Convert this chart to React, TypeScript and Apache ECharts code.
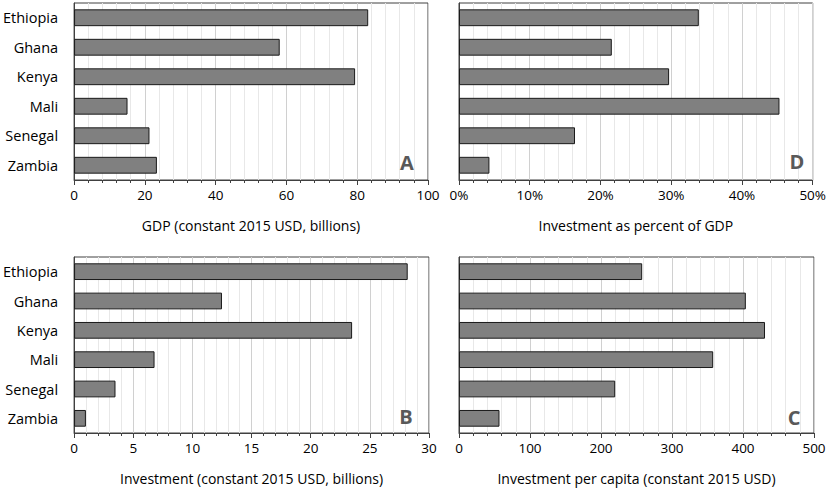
import React, { useEffect, useRef } from "react";
import * as echarts from "echarts";

const countries = ["Ethiopia", "Ghana", "Kenya", "Mali", "Senegal", "Zambia"];
const gdpBillions = [83.1, 58.1, 79.4, 15.1, 21.3, 23.4];
const investmentBillions = [28.2, 12.5, 23.5, 6.8, 3.5, 1.0];
const investmentPctGdp = [33.9, 21.6, 29.7, 45.3, 16.4, 4.3];
const investmentPerCapita = [258, 404, 431, 358, 220, 57];

const panelLetters = ["A", "D", "B", "C"];
const axisTitles = [
  "GDP (constant 2015 USD, billions)",
  "Investment as percent of GDP",
  "Investment (constant 2015 USD, billions)",
  "Investment per capita (constant 2015 USD)",
];
const axisMax = [100, 50, 30, 500];
const axisInterval = [20, 10, 5, 100];

const FONT = "'Open Sans', sans-serif";

export default function App() {
  const ref = useRef<HTMLDivElement>(null);
  useEffect(() => {
    if (!ref.current) return;
    const chart = echarts.init(ref.current, undefined, { renderer: "svg" });
    const grids = [
      { left: 71, top: 3, width: 357, height: 177 },
      { left: 459, top: 3, width: 355, height: 177 },
      { left: 72, top: 257, width: 357, height: 176 },
      { left: 459, top: 257, width: 355, height: 176 },
    ];
    const seriesData = [gdpBillions, investmentPctGdp, investmentBillions, investmentPerCapita];
    const letterPos = [
      [407, 162],
      [797, 161],
      [406, 416],
      [794, 417],
    ];
    const option: any = {
      animation: false,
      backgroundColor: "#ffffff",
      grid: grids.map((g) => ({
        ...g,
        show: true,
        borderColor: "#404040",
        borderWidth: 1,
        backgroundColor: "transparent",
      })),
      xAxis: grids.map((_, i) => ({
        type: "value",
        gridIndex: i,
        min: 0,
        max: axisMax[i],
        interval: axisInterval[i],
        name: axisTitles[i],
        nameLocation: "middle",
        nameGap: 38,
        nameTextStyle: { fontFamily: FONT, fontSize: 14, color: "#000000" },
        axisLine: { show: true, lineStyle: { color: "#404040", width: 1 } },
        axisTick: { show: true, length: 5, lineStyle: { color: "#404040" } },
        minorTick: { show: true, splitNumber: 5, length: 3, lineStyle: { color: "#404040" } },
        splitLine: { show: true, lineStyle: { color: "#d0d0d0", width: 1 } },
        minorSplitLine: { show: true, lineStyle: { color: "#e8e8e8", width: 1 } },
        axisLabel: {
          fontFamily: FONT,
          fontSize: 13.5,
          color: "#000000",
          margin: 8,
          formatter: i === 1 ? "{value}%" : "{value}",
        },
      })),
      yAxis: grids.map((_, i) => ({
        type: "category",
        gridIndex: i,
        data: countries,
        inverse: true,
        axisLine: { show: true, lineStyle: { color: "#404040", width: 1 } },
        axisTick: { show: false },
        axisLabel: {
          show: i === 0 || i === 2,
          fontFamily: FONT,
          fontSize: 14.5,
          color: "#000000",
          margin: 16,
        },
      })),
      series: seriesData.map((d, i) => ({
        type: "bar",
        xAxisIndex: i,
        yAxisIndex: i,
        data: d,
        barWidth: "57%",
        itemStyle: { color: "#808080", borderColor: "#1a1a1a", borderWidth: 1 },
      })),
      graphic: panelLetters.map((l, i) => ({
        type: "text",
        z: 100,
        x: letterPos[i][0],
        y: letterPos[i][1],
        style: {
          text: l,
          fontFamily: FONT,
          fontSize: 20,
          fontWeight: "bold",
          fill: "#595959",
          textAlign: "center",
          textVerticalAlign: "middle",
        },
      })),
    };
    chart.setOption(option);
    return () => chart.dispose();
  }, []);
  return (
    <div
      ref={ref}
      style={{ position: "fixed", left: 0, top: 0, width: 829, height: 494 }}
    />
  );
}
